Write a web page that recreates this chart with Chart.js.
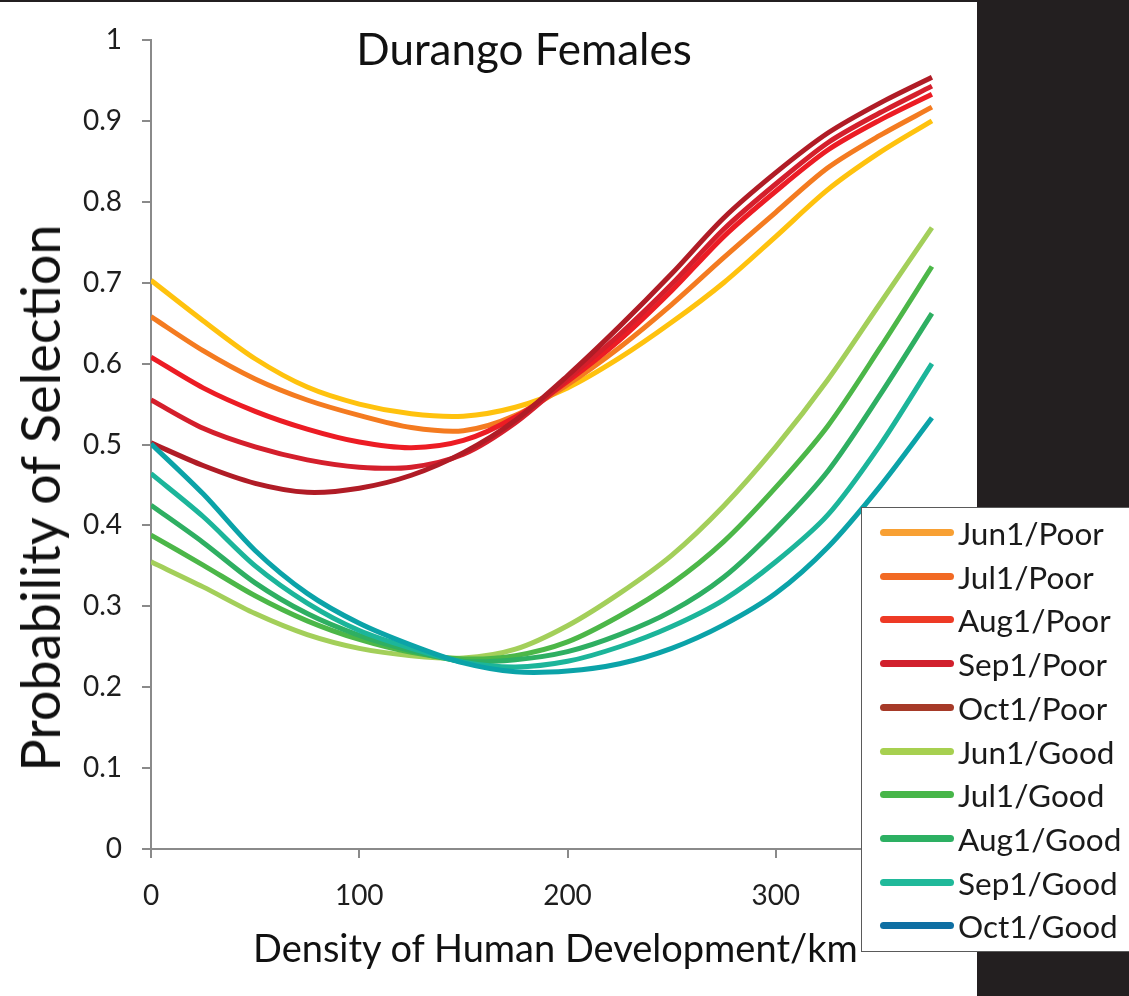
<!DOCTYPE html>
<html>
<head>
<meta charset="utf-8">
<script src="https://cdn.jsdelivr.net/npm/chart.js@4.4.1/dist/chart.umd.min.js"></script>
<style>
  html, body { margin: 0; padding: 0; background: #ffffff; }
  #wrap { position: relative; width: 1129px; height: 996px; overflow: hidden; background: #ffffff; }
  #c { position: absolute; left: 0; top: 0; }
  #topbar { position: absolute; left: 0; top: 0; width: 1129px; height: 2px; background: #231f20; }
  #darkpanel { position: absolute; left: 977px; top: 0; width: 152px; height: 996px; background: #231f20; }
  #title { position: absolute; left: 524px; top: 26px; transform: translateX(-50%); font-family: Lato, 'Open Sans', sans-serif; font-size: 44px; line-height: 1; color: #111; white-space: nowrap; }
  #ytitle { position: absolute; left: 40px; top: 498px; transform: translate(-50%, -50%) rotate(-90deg); font-family: Lato, 'Open Sans', sans-serif; font-size: 54px; line-height: 1; color: #111; white-space: nowrap; }
  #xtitle { position: absolute; left: 253px; top: 928px; font-family: Lato, 'Open Sans', sans-serif; font-size: 38px; line-height: 1; color: #111; white-space: nowrap; }
  #legend { position: absolute; left: 861px; top: 507px; width: 290px; height: 445px; background: #fff; border: 1px solid #5a5a5a; box-sizing: border-box; }
  .lrow { position: absolute; left: 0; height: 40px; width: 290px; }
  .lsw { position: absolute; left: 18px; top: 16px; width: 74px; height: 7px; border-radius: 4px; }
  .ltx { position: absolute; left: 96px; top: 0; font-family: Lato, 'Open Sans', sans-serif; font-size: 31.5px; line-height: 40px; color: #1a1a1a; white-space: nowrap; }
</style>
</head>
<body>
<div id="wrap">
  <canvas id="c" width="1129" height="996"></canvas>
  <div id="topbar"></div>
  <div id="darkpanel"></div>
  <div id="title">Durango Females</div>
  <div id="ytitle">Probability of Selection</div>
  <div id="xtitle"></div>
  <div id="legend"></div>
</div>
<script>
// ---- data ----
const xValues = [0, 25, 50, 75, 100, 125, 150, 175, 200, 225, 250, 275, 300, 325, 350, 375];

const seriesNames = ['Jun1/Poor', 'Jul1/Poor', 'Aug1/Poor', 'Sep1/Poor', 'Oct1/Poor',
                     'Jun1/Good', 'Jul1/Good', 'Aug1/Good', 'Sep1/Good', 'Oct1/Good'];

const jun1Poor = [0.703, 0.653, 0.606, 0.571, 0.550, 0.538, 0.535, 0.546, 0.570, 0.607, 0.651, 0.700, 0.757, 0.815, 0.861, 0.900];
const jul1Poor = [0.658, 0.616, 0.581, 0.555, 0.536, 0.521, 0.517, 0.536, 0.574, 0.620, 0.673, 0.731, 0.787, 0.842, 0.882, 0.917];
const aug1Poor = [0.608, 0.570, 0.541, 0.519, 0.503, 0.496, 0.505, 0.534, 0.578, 0.629, 0.690, 0.757, 0.813, 0.864, 0.901, 0.933];
const sep1Poor = [0.555, 0.520, 0.497, 0.481, 0.472, 0.472, 0.488, 0.527, 0.581, 0.636, 0.698, 0.766, 0.822, 0.873, 0.910, 0.943];
const oct1Poor = [0.502, 0.474, 0.452, 0.441, 0.446, 0.462, 0.490, 0.530, 0.585, 0.646, 0.711, 0.780, 0.836, 0.885, 0.922, 0.954];

const jun1Good = [0.355, 0.324, 0.291, 0.265, 0.248, 0.239, 0.236, 0.247, 0.276, 0.316, 0.363, 0.424, 0.497, 0.580, 0.674, 0.768];
const jul1Good = [0.388, 0.351, 0.313, 0.282, 0.259, 0.243, 0.235, 0.239, 0.256, 0.288, 0.328, 0.380, 0.447, 0.523, 0.619, 0.720];
const aug1Good = [0.425, 0.379, 0.329, 0.291, 0.264, 0.245, 0.232, 0.234, 0.244, 0.265, 0.294, 0.336, 0.396, 0.467, 0.561, 0.662];
const sep1Good = [0.464, 0.411, 0.350, 0.304, 0.270, 0.248, 0.231, 0.225, 0.232, 0.250, 0.275, 0.308, 0.355, 0.413, 0.499, 0.600];
const oct1Good = [0.501, 0.439, 0.369, 0.316, 0.279, 0.252, 0.230, 0.219, 0.220, 0.229, 0.248, 0.277, 0.316, 0.373, 0.448, 0.533];

const seriesValues = [jun1Poor, jul1Poor, aug1Poor, sep1Poor, oct1Poor,
                      jun1Good, jul1Good, aug1Good, sep1Good, oct1Good];

const lineColors   = ['#ffc20e', '#f47b20', '#ec1c24', '#d41f2c', '#b01c26',
                      '#a3cf5a', '#4cb748', '#2eaf62', '#1cb59a', '#0ba3a8'];
const legendColors = ['#f8a033', '#f26a24', '#ee3a25', '#d1202d', '#a63a28',
                      '#a7d050', '#47b649', '#2db063', '#20b99a', '#0e6fa3'];

const xTickValues = [0, 100, 200, 300, 400];
const yTickValues = [0, 0.1, 0.2, 0.3, 0.4, 0.5, 0.6, 0.7, 0.8, 0.9, 1];
const yTickLabels = ['0', '0.1', '0.2', '0.3', '0.4', '0.5', '0.6', '0.7', '0.8', '0.9', '1'];
const xTitle = 'Density of Human Development/km';

document.getElementById('xtitle').textContent = xTitle;

// ---- legend (HTML) ----
const legendEl = document.getElementById('legend');
seriesNames.forEach((name, i) => {
  const row = document.createElement('div');
  row.className = 'lrow';
  row.style.top = (5 + i * 43.7) + 'px';
  const sw = document.createElement('div');
  sw.className = 'lsw';
  sw.style.background = legendColors[i];
  const tx = document.createElement('div');
  tx.className = 'ltx';
  tx.textContent = name;
  row.appendChild(sw);
  row.appendChild(tx);
  legendEl.appendChild(row);
});

function build() {
  const datasets = seriesNames.map((name, i) => ({
    label: name,
    data: xValues.map((x, j) => ({ x: x, y: seriesValues[i][j] })),
    borderColor: lineColors[i],
    backgroundColor: lineColors[i],
    borderWidth: 5,
    pointRadius: 0,
    fill: false,
    tension: 0.3,
    order: seriesNames.length - i
  }));

  new Chart(document.getElementById('c'), {
    type: 'line',
    data: { datasets: datasets },
    options: {
      responsive: false,
      animation: false,
      devicePixelRatio: 1,
      layout: { padding: { left: 0, top: 40, right: 145, bottom: 0 } },
      plugins: { legend: { display: false }, tooltip: { enabled: false }, title: { display: false } },
      scales: {
        x: {
          type: 'linear',
          min: xTickValues[0],
          max: xTickValues[xTickValues.length - 1],
          afterBuildTicks: (axis) => { axis.ticks = xTickValues.map(v => ({ value: v })); },
          afterFit: (scale) => { scale.height = 147; },
          grid: { display: true, drawOnChartArea: false, drawTicks: true, tickLength: 9, color: '#8a8a8a', lineWidth: 2 },
          border: { display: true, color: '#8a8a8a', width: 2 },
          ticks: { font: { family: 'Lato', size: 28 }, color: '#1e1e1e', padding: 21, maxRotation: 0 },
          title: { display: false }
        },
        y: {
          type: 'linear',
          min: yTickValues[0],
          max: yTickValues[yTickValues.length - 1],
          afterBuildTicks: (axis) => { axis.ticks = yTickValues.map(v => ({ value: v })); },
          ticks: {
            font: { family: 'Lato', size: 28 }, color: '#1e1e1e', padding: 20,
            callback: (v) => { const k = yTickValues.findIndex(t => Math.abs(t - v) < 1e-9); return k >= 0 ? yTickLabels[k] : ''; }
          },
          afterFit: (scale) => { scale.width = 151; },
          grid: { display: true, drawOnChartArea: false, drawTicks: true, tickLength: 9, color: '#8a8a8a', lineWidth: 2 },
          border: { display: true, color: '#8a8a8a', width: 2 }
        }
      }
    }
  });
}

const fontLoads = [document.fonts.load('28px Lato'), document.fonts.load('40px Lato')];
Promise.all(fontLoads).then(build, build);
</script>
</body>
</html>
